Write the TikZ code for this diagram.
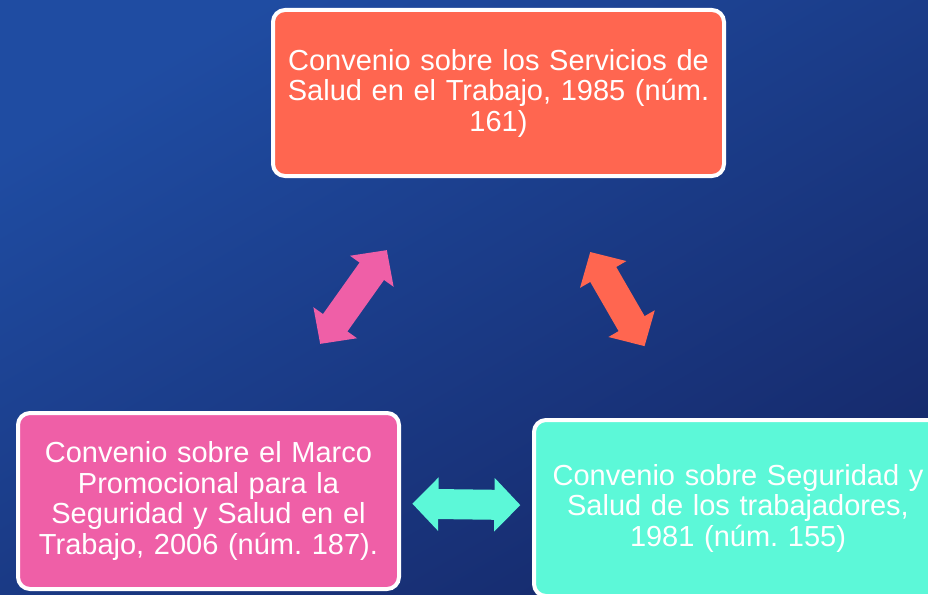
\documentclass[tikz,border=0pt]{standalone}
\usepackage{fontspec}
\setmainfont{Liberation Sans}
\usetikzlibrary{arrows.meta,calc}
\frenchspacing
\definecolor{bgtop}{RGB}{31,76,162}
\definecolor{bgbot}{RGB}{22,42,108}
\definecolor{redbox}{RGB}{255,102,80}
\definecolor{pinkbox}{RGB}{239,95,167}
\definecolor{aquabox}{RGB}{92,248,216}
\tikzset{
	conv/.style={draw=white, line width=4pt, rounded corners=12pt, inner sep=0pt,
		align=center, text=white, font=\fontsize{29}{30.5}\selectfont},
	fat/.style={line width=30pt, {Triangle[width=52pt,length=26pt]}-{Triangle[width=52pt,length=26pt]}}
}
\begin{document}
\begin{tikzpicture}[x=1pt,y=-1pt]
	\def\W{928} \def\H{594}
	\useasboundingbox (0,0) rectangle (\W,\H);
	\clip (0,0) rectangle (\W,\H);
	\shade[top color=bgtop, bottom color=bgbot, shading angle=30] (0,0) rectangle (\W,\H);
	% boxes
	\node[conv, fill=redbox, minimum width=451pt, minimum height=166pt, text width=440pt]
		(c161) at (498.5,93) {Convenio sobre los Servicios de\\Salud en el Trabajo, 1985 (núm.\\161)};
	\node[conv, fill=pinkbox, minimum width=381pt, minimum height=176pt, text width=370pt]
		(c187) at (208.5,501) {Convenio sobre el Marco\\Promocional para la\\Seguridad y Salud en el\\Trabajo, 2006 (núm. 187).};
	\node[conv, fill=aquabox, minimum width=408pt, minimum height=176pt, text width=400pt]
		(c155) at (738,508) {Convenio sobre Seguridad y\\Salud de los trabajadores,\\1981 (núm. 155)};
	% double arrows
	\draw[fat, pinkbox] ($(c187)!0.385!(c161)$) -- ($(c187)!0.615!(c161)$);
	\draw[fat, redbox] ($(c161)!0.383!(c155)$) -- ($(c161)!0.61!(c155)$);
	\draw[fat, aquabox] ($(c187)!0.385!(c155)$) -- ($(c187)!0.589!(c155)$);
\end{tikzpicture}
\end{document}
